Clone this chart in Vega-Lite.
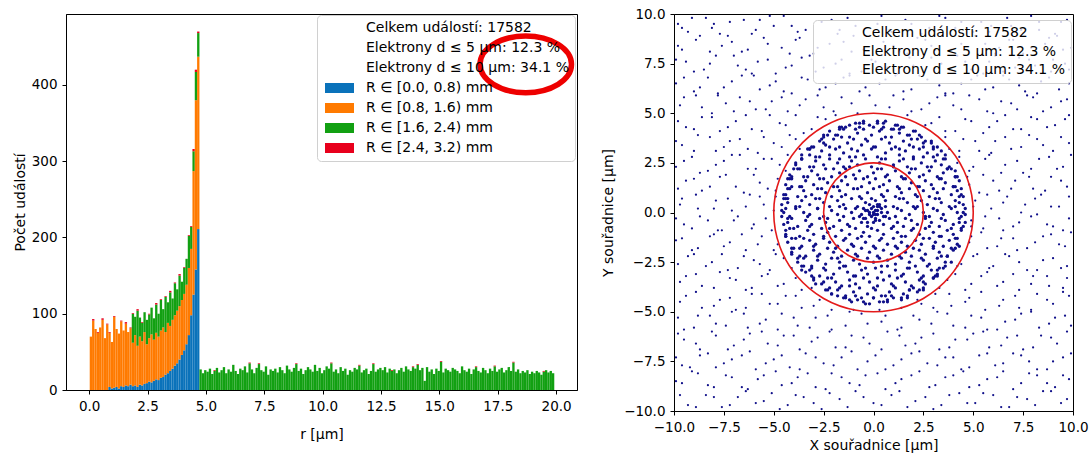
{
"$schema":"https://vega.github.io/schema/vega-lite/v6.json",
"padding":{"left":12,"top":6,"right":1,"bottom":1},
"spacing":17,
"align":"none",
"config":{"font":"DejaVu Sans","view":{"stroke":"#000","strokeWidth":1},
"axis":{"grid":false,"domainColor":"#000","tickColor":"#000","labelColor":"#000","titleColor":"#000","labelFont":"DejaVu Sans","titleFont":"DejaVu Sans","labelFontSize":13.5,"titleFontSize":14,"titleFontWeight":"normal","tickSize":4,"labelPadding":5,"labelFlush":false,"labelOverlap":false}},
"resolve":{"scale":{"color":"independent"},"legend":{"color":"independent"}},
"datasets":{
"hist":[{"r":0.0,"b":70},{"r":0.1,"b":91,"d":2},{"r":0.2,"b":80},{"r":0.3,"b":75,"d":1},{"r":0.4,"b":82},{"r":0.5,"b":92,"d":2},{"r":0.6,"b":68},{"r":0.7,"b":86,"d":1},{"r":0.8,"a":4,"b":71,"d":1},{"r":0.9,"a":2,"b":61},{"r":1.0,"a":3,"b":93,"d":1},{"r":1.1,"a":4,"b":76},{"r":1.2,"a":2,"b":72},{"r":1.3,"a":5,"b":85,"d":1},{"r":1.4,"a":4,"b":74},{"r":1.5,"a":6,"b":81,"d":2},{"r":1.6,"a":5,"b":71},{"r":1.7,"a":7,"b":74,"d":1},
{"r":1.8,"a":5,"b":57,"c":38,"d":1},{"r":1.9,"a":6,"b":66,"c":24},{"r":2.0,"a":4,"b":54,"c":46,"d":2},{"r":2.1,"a":7,"b":63,"c":25},{"r":2.2,"a":6,"b":58,"c":24,"d":1},{"r":2.3,"a":8,"b":68,"c":26},{"r":2.4,"a":9,"b":51,"c":32},{"r":2.5,"a":11,"b":57,"c":31,"d":1},{"r":2.6,"a":10,"b":63,"c":35},{"r":2.7,"a":12,"b":54,"c":28},{"r":2.8,"a":14,"b":61,"c":37,"d":2},{"r":2.9,"a":13,"b":57,"c":30},{"r":3.0,"a":16,"b":62,"c":40,"d":1},{"r":3.1,"a":17,"b":65,"c":24},{"r":3.2,"a":20,"b":56,"c":46,"d":1},{"r":3.3,"a":22,"b":66,"c":27},{"r":3.4,"a":25,"b":59,"c":44,"d":2},{"r":3.5,"a":28,"b":64,"c":28},{"r":3.6,"a":32,"b":66,"c":42,"d":1},{"r":3.7,"a":35,"b":69,"c":28},{"r":3.8,"a":40,"b":70,"c":40,"d":2},{"r":3.9,"a":46,"b":72,"c":24},{"r":4.0,"a":52,"b":74,"c":34,"d":1},{"r":4.1,"a":60,"b":78,"c":34},{"r":4.2,"a":72,"b":88,"c":42,"d":1},{"r":4.3,"a":98,"b":87,"c":29,"d":1},{"r":4.4,"a":125,"b":162,"c":26,"d":3},{"r":4.5,"a":158,"b":222,"c":37,"d":3},{"r":4.6,"a":211,"b":226,"c":31,"d":2},
{"r":4.7,"c":27},{"r":4.8,"c":22},{"r":4.9,"c":26},{"r":5.0,"c":24},{"r":5.1,"c":28},{"r":5.2,"c":21},{"r":5.3,"c":25,"d":1},{"r":5.4,"c":29},{"r":5.5,"c":23},{"r":5.6,"c":26},{"r":5.7,"c":30},{"r":5.8,"c":22},{"r":5.9,"c":27},{"r":6.0,"c":24},{"r":6.1,"c":33},{"r":6.2,"c":25},{"r":6.3,"c":21},{"r":6.4,"c":28},{"r":6.5,"c":26},{"r":6.6,"c":31},{"r":6.7,"c":23},{"r":6.8,"c":35,"d":1},{"r":6.9,"c":27},{"r":7.0,"c":22},{"r":7.1,"c":29},{"r":7.2,"c":34,"d":1},{"r":7.3,"c":26},{"r":7.4,"c":24},{"r":7.5,"c":31},{"r":7.6,"c":20},{"r":7.7,"c":27},{"r":7.8,"c":25},{"r":7.9,"c":28},{"r":8.0,"c":23},{"r":8.1,"c":30},{"r":8.2,"c":26},{"r":8.3,"c":22},{"r":8.4,"c":32},{"r":8.5,"c":27},{"r":8.6,"c":24},{"r":8.7,"c":29},{"r":8.8,"c":34,"d":1},{"r":8.9,"c":25},{"r":9.0,"c":28},{"r":9.1,"c":21},{"r":9.2,"c":26},{"r":9.3,"c":30},{"r":9.4,"c":27},{"r":9.5,"c":24},{"r":9.6,"c":33},{"r":9.7,"c":25},{"r":9.8,"c":29},{"r":9.9,"c":22},{"r":10.0,"c":26},{"r":10.1,"c":31},{"r":10.2,"c":28},{"r":10.3,"c":35,"d":1},{"r":10.4,"c":24},{"r":10.5,"c":27},{"r":10.6,"c":22},{"r":10.7,"c":30},{"r":10.8,"c":25},{"r":10.9,"c":28},{"r":11.0,"c":20},{"r":11.1,"c":26},{"r":11.2,"c":24},{"r":11.3,"c":29},{"r":11.4,"c":27},{"r":11.5,"c":32,"d":1},{"r":11.6,"c":23},{"r":11.7,"c":26},{"r":11.8,"c":28},{"r":11.9,"c":21},{"r":12.0,"c":25},{"r":12.1,"c":34,"d":1},{"r":12.2,"c":24},{"r":12.3,"c":27},{"r":12.4,"c":29},{"r":12.5,"c":26},{"r":12.6,"c":30},{"r":12.7,"c":23},{"r":12.8,"c":28},{"r":12.9,"c":25,"d":1},{"r":13.0,"c":27},{"r":13.1,"c":22},{"r":13.2,"c":26},{"r":13.3,"c":29},{"r":13.4,"c":24},{"r":13.5,"c":31},{"r":13.6,"c":27},{"r":13.7,"c":25},{"r":13.8,"c":30,"d":1},{"r":13.9,"c":28},{"r":14.0,"c":33,"d":1},{"r":14.1,"c":26},{"r":14.2,"c":29},{"r":14.3,"c":12},{"r":14.4,"c":30},{"r":14.5,"c":24},{"r":14.6,"c":27},{"r":14.7,"c":21},{"r":14.8,"c":28},{"r":14.9,"c":25},{"r":15.0,"c":37,"d":1},{"r":15.1,"c":23},{"r":15.2,"c":28},{"r":15.3,"c":26},{"r":15.4,"c":24},{"r":15.5,"c":29},{"r":15.6,"c":27},{"r":15.7,"c":25},{"r":15.8,"c":22},{"r":15.9,"c":31},{"r":16.0,"c":26},{"r":16.1,"c":24},{"r":16.2,"c":28},{"r":16.3,"c":21},{"r":16.4,"c":27},{"r":16.5,"c":30,"d":1},{"r":16.6,"c":25},{"r":16.7,"c":23},{"r":16.8,"c":29},{"r":16.9,"c":26},{"r":17.0,"c":22},{"r":17.1,"c":28},{"r":17.2,"c":25},{"r":17.3,"c":31,"d":1},{"r":17.4,"c":24},{"r":17.5,"c":27},{"r":17.6,"c":29},{"r":17.7,"c":23},{"r":17.8,"c":26},{"r":17.9,"c":30},{"r":18.0,"c":25},{"r":18.1,"c":36,"d":1},{"r":18.2,"c":24},{"r":18.3,"c":27},{"r":18.4,"c":22},{"r":18.5,"c":25},{"r":18.6,"c":23},{"r":18.7,"c":26},{"r":18.8,"c":21},{"r":18.9,"c":24},{"r":19.0,"c":22},{"r":19.1,"c":25},{"r":19.2,"c":23},{"r":19.3,"c":20},{"r":19.4,"c":24,"d":1},{"r":19.5,"c":26},{"r":19.6,"c":23},{"r":19.7,"c":25},{"r":19.8,"c":22}],
"bg":[{"x":-9.6,"y":9.3},{"x":-9.1,"y":9.8},{"x":-8.0,"y":9.5},{"x":-7.7,"y":9.0},{"x":-6.5,"y":9.7},{"x":-5.9,"y":9.2},{"x":-5.2,"y":9.9},{"x":-4.1,"y":9.4},{"x":-3.8,"y":9.1},{"x":-2.6,"y":9.6},{"x":-1.7,"y":9.2},{"x":-1.3,"y":9.8},{"x":0.2,"y":9.5},{"x":0.9,"y":9.1},{"x":1.6,"y":9.7},{"x":2.8,"y":9.3},{"x":3.3,"y":9.9},{"x":4.4,"y":9.6},{"x":5.0,"y":9.1},{"x":5.9,"y":9.4},{"x":6.7,"y":9.8},{"x":7.4,"y":9.2},{"x":8.3,"y":9.6},{"x":9.1,"y":9.0},{"x":9.7,"y":9.7},
{"x":-9.8,"y":8.4},{"x":-8.7,"y":8.9},{"x":-8.2,"y":8.1},{"x":-7.1,"y":8.6},{"x":-6.3,"y":8.2},{"x":-5.5,"y":8.8},{"x":-4.6,"y":8.3},{"x":-3.9,"y":8.7},{"x":-3.0,"y":8.0},{"x":-2.2,"y":8.5},{"x":-1.0,"y":8.9},{"x":-0.5,"y":8.2},{"x":0.5,"y":8.6},{"x":1.3,"y":8.1},{"x":2.2,"y":8.8},{"x":2.9,"y":8.4},{"x":3.9,"y":8.2},{"x":4.7,"y":8.9},{"x":5.6,"y":8.5},{"x":6.1,"y":8.0},{"x":7.0,"y":8.7},{"x":7.9,"y":8.3},{"x":8.8,"y":8.8},{"x":9.5,"y":8.2},
{"x":-9.4,"y":7.6},{"x":-8.5,"y":7.2},{"x":-7.9,"y":7.9},{"x":-6.8,"y":7.4},{"x":-6.1,"y":7.0},{"x":-5.3,"y":7.7},{"x":-4.4,"y":7.3},{"x":-3.6,"y":7.8},{"x":-2.9,"y":7.1},{"x":-1.9,"y":7.5},{"x":-1.2,"y":7.0},{"x":-0.1,"y":7.7},{"x":0.7,"y":7.3},{"x":1.8,"y":7.8},{"x":2.5,"y":7.1},{"x":3.4,"y":7.5},{"x":4.2,"y":7.9},{"x":4.9,"y":7.2},{"x":5.8,"y":7.6},{"x":6.5,"y":7.1},{"x":7.3,"y":7.8},{"x":8.1,"y":7.4},{"x":9.0,"y":7.7},{"x":9.8,"y":7.2},
{"x":-9.9,"y":6.5},{"x":-9.0,"y":6.1},{"x":-8.3,"y":6.8},{"x":-7.5,"y":6.3},{"x":-6.6,"y":6.9},{"x":-5.7,"y":6.2},{"x":-4.9,"y":6.6},{"x":-4.1,"y":6.0},{"x":-3.3,"y":6.7},{"x":-2.4,"y":6.3},{"x":-1.5,"y":6.8},{"x":-0.7,"y":6.1},{"x":0.3,"y":6.5},{"x":1.1,"y":6.9},{"x":1.9,"y":6.2},{"x":2.7,"y":6.7},{"x":3.6,"y":6.0},{"x":4.4,"y":6.5},{"x":5.2,"y":6.9},{"x":6.0,"y":6.3},{"x":6.8,"y":6.7},{"x":7.6,"y":6.1},{"x":8.4,"y":6.6},{"x":9.3,"y":6.2},
{"x":-9.5,"y":5.8},{"x":-8.6,"y":5.3},{"x":-7.8,"y":5.9},{"x":-7.0,"y":5.1},{"x":-6.2,"y":5.6},{"x":-5.4,"y":5.2},{"x":-4.6,"y":5.8},{"x":-3.7,"y":5.4},{"x":-2.8,"y":5.9},{"x":-2.0,"y":5.1},{"x":-1.1,"y":5.5},{"x":-0.2,"y":5.9},{"x":0.8,"y":5.3},{"x":1.5,"y":5.7},{"x":2.4,"y":5.2},{"x":3.2,"y":5.8},{"x":4.0,"y":5.4},{"x":4.8,"y":5.9},{"x":5.7,"y":5.1},{"x":6.4,"y":5.6},{"x":7.2,"y":5.2},{"x":8.0,"y":5.8},{"x":8.9,"y":5.3},{"x":9.7,"y":5.7},
{"x":-9.8,"y":4.6},{"x":-9.0,"y":4.2},{"x":-8.1,"y":4.8},{"x":-7.3,"y":4.3},{"x":-6.4,"y":4.9},{"x":-5.6,"y":4.1},{"x":-4.7,"y":4.5},{"x":-3.9,"y":4.9},{"x":-3.1,"y":4.2},{"x":-2.4,"y":4.7},{"x":2.6,"y":4.4},{"x":3.3,"y":4.8},{"x":4.1,"y":4.1},{"x":4.9,"y":4.6},{"x":5.8,"y":4.3},{"x":6.6,"y":4.9},{"x":7.4,"y":4.2},{"x":8.2,"y":4.7},{"x":9.1,"y":4.4},{"x":9.8,"y":4.9},
{"x":-9.6,"y":3.4},{"x":-8.8,"y":3.9},{"x":-7.9,"y":3.1},{"x":-7.2,"y":3.6},{"x":-6.3,"y":3.2},{"x":-5.5,"y":3.8},{"x":-4.6,"y":3.3},{"x":-3.9,"y":3.7},{"x":3.8,"y":3.2},{"x":4.5,"y":3.7},{"x":5.3,"y":3.1},{"x":6.1,"y":3.6},{"x":6.9,"y":3.2},{"x":7.8,"y":3.9},{"x":8.5,"y":3.4},{"x":9.4,"y":3.8},
{"x":-9.9,"y":2.3},{"x":-9.1,"y":2.8},{"x":-8.3,"y":2.1},{"x":-7.5,"y":2.6},{"x":-6.7,"y":2.9},{"x":-5.9,"y":2.2},{"x":-5.1,"y":2.7},{"x":-4.4,"y":2.1},{"x":4.3,"y":2.8},{"x":5.0,"y":2.3},{"x":5.8,"y":2.9},{"x":6.6,"y":2.4},{"x":7.5,"y":2.0},{"x":8.3,"y":2.7},{"x":9.2,"y":2.2},{"x":9.9,"y":2.9},
{"x":-9.4,"y":1.6},{"x":-8.6,"y":1.1},{"x":-7.7,"y":1.8},{"x":-6.9,"y":1.3},{"x":-6.0,"y":1.9},{"x":-5.3,"y":1.2},{"x":-4.8,"y":1.7},{"x":4.8,"y":1.4},{"x":5.5,"y":1.9},{"x":6.3,"y":1.1},{"x":7.1,"y":1.6},{"x":8.0,"y":1.2},{"x":8.9,"y":1.8},{"x":9.7,"y":1.3},
{"x":-9.7,"y":0.4},{"x":-8.9,"y":0.9},{"x":-8.0,"y":0.2},{"x":-7.3,"y":0.7},{"x":-6.4,"y":0.3},{"x":-5.7,"y":0.8},{"x":-5.0,"y":0.1},{"x":5.1,"y":0.6},{"x":5.9,"y":0.2},{"x":6.7,"y":0.8},{"x":7.6,"y":0.4},{"x":8.4,"y":0.9},{"x":9.3,"y":0.3},
{"x":-9.5,"y":-0.6},{"x":-8.7,"y":-0.2},{"x":-7.8,"y":-0.9},{"x":-7.0,"y":-0.4},{"x":-6.1,"y":-0.8},{"x":-5.4,"y":-0.3},{"x":4.9,"y":-0.7},{"x":5.6,"y":-0.2},{"x":6.5,"y":-0.9},{"x":7.3,"y":-0.5},{"x":8.2,"y":-0.1},{"x":9.0,"y":-0.7},{"x":9.8,"y":-0.3},
{"x":-9.9,"y":-1.4},{"x":-9.1,"y":-1.9},{"x":-8.2,"y":-1.2},{"x":-7.5,"y":-1.7},{"x":-6.6,"y":-1.1},{"x":-5.8,"y":-1.6},{"x":-5.0,"y":-1.9},{"x":4.9,"y":-1.2},{"x":5.7,"y":-1.8},{"x":6.4,"y":-1.3},{"x":7.2,"y":-1.9},{"x":8.1,"y":-1.5},{"x":8.9,"y":-1.1},{"x":9.6,"y":-1.7},
{"x":-9.3,"y":-2.2},{"x":-8.4,"y":-2.7},{"x":-7.6,"y":-2.1},{"x":-6.8,"y":-2.8},{"x":-6.0,"y":-2.4},{"x":-5.2,"y":-2.9},{"x":-4.5,"y":-2.3},{"x":4.4,"y":-2.6},{"x":5.2,"y":-2.1},{"x":6.0,"y":-2.7},{"x":6.8,"y":-2.2},{"x":7.7,"y":-2.9},{"x":8.5,"y":-2.4},{"x":9.4,"y":-2.8},
{"x":-9.7,"y":-3.5},{"x":-8.9,"y":-3.1},{"x":-8.0,"y":-3.8},{"x":-7.2,"y":-3.3},{"x":-6.4,"y":-3.9},{"x":-5.6,"y":-3.2},{"x":-4.8,"y":-3.7},{"x":-3.9,"y":-3.3},{"x":3.7,"y":-3.4},{"x":4.6,"y":-3.9},{"x":5.4,"y":-3.2},{"x":6.2,"y":-3.7},{"x":7.0,"y":-3.1},{"x":7.9,"y":-3.6},{"x":8.7,"y":-3.2},{"x":9.5,"y":-3.8},
{"x":-9.4,"y":-4.2},{"x":-8.6,"y":-4.8},{"x":-7.7,"y":-4.4},{"x":-6.9,"y":-4.9},{"x":-6.1,"y":-4.1},{"x":-5.2,"y":-4.6},{"x":-4.4,"y":-4.2},{"x":-3.6,"y":-4.8},{"x":-2.7,"y":-4.4},{"x":2.4,"y":-4.6},{"x":3.1,"y":-4.1},{"x":3.9,"y":-4.7},{"x":4.8,"y":-4.3},{"x":5.6,"y":-4.9},{"x":6.5,"y":-4.4},{"x":7.3,"y":-4.8},{"x":8.2,"y":-4.1},{"x":9.0,"y":-4.6},{"x":9.8,"y":-4.2},
{"x":-9.8,"y":-5.3},{"x":-9.0,"y":-5.8},{"x":-8.2,"y":-5.2},{"x":-7.4,"y":-5.7},{"x":-6.5,"y":-5.1},{"x":-5.7,"y":-5.6},{"x":-4.8,"y":-5.9},{"x":-4.0,"y":-5.3},{"x":-3.2,"y":-5.8},{"x":-2.3,"y":-5.2},{"x":-1.4,"y":-5.7},{"x":-0.6,"y":-5.1},{"x":0.4,"y":-5.5},{"x":1.2,"y":-5.9},{"x":2.0,"y":-5.2},{"x":2.9,"y":-5.6},{"x":3.7,"y":-5.1},{"x":4.6,"y":-5.8},{"x":5.4,"y":-5.3},{"x":6.2,"y":-5.9},{"x":7.1,"y":-5.4},{"x":7.9,"y":-5.0},{"x":8.8,"y":-5.6},{"x":9.6,"y":-5.2},
{"x":-9.5,"y":-6.4},{"x":-8.7,"y":-6.9},{"x":-7.9,"y":-6.2},{"x":-7.0,"y":-6.7},{"x":-6.2,"y":-6.1},{"x":-5.3,"y":-6.6},{"x":-4.5,"y":-6.2},{"x":-3.7,"y":-6.9},{"x":-2.8,"y":-6.3},{"x":-1.9,"y":-6.8},{"x":-1.1,"y":-6.2},{"x":-0.2,"y":-6.6},{"x":0.7,"y":-6.0},{"x":1.6,"y":-6.7},{"x":2.4,"y":-6.3},{"x":3.3,"y":-6.9},{"x":4.1,"y":-6.4},{"x":5.0,"y":-6.1},{"x":5.8,"y":-6.8},{"x":6.7,"y":-6.3},{"x":7.5,"y":-6.9},{"x":8.4,"y":-6.2},{"x":9.2,"y":-6.6},
{"x":-9.9,"y":-7.3},{"x":-9.2,"y":-7.8},{"x":-8.3,"y":-7.1},{"x":-7.5,"y":-7.6},{"x":-6.6,"y":-7.2},{"x":-5.9,"y":-7.9},{"x":-5.0,"y":-7.4},{"x":-4.2,"y":-7.8},{"x":-3.4,"y":-7.1},{"x":-2.5,"y":-7.6},{"x":-1.6,"y":-7.3},{"x":-0.8,"y":-7.9},{"x":0.1,"y":-7.2},{"x":1.0,"y":-7.7},{"x":1.9,"y":-7.1},{"x":2.7,"y":-7.6},{"x":3.6,"y":-7.3},{"x":4.4,"y":-7.9},{"x":5.3,"y":-7.2},{"x":6.1,"y":-7.7},{"x":7.0,"y":-7.1},{"x":7.8,"y":-7.5},{"x":8.7,"y":-7.9},{"x":9.5,"y":-7.3},
{"x":-9.6,"y":-8.6},{"x":-8.8,"y":-8.1},{"x":-8.0,"y":-8.8},{"x":-7.1,"y":-8.3},{"x":-6.3,"y":-8.9},{"x":-5.5,"y":-8.2},{"x":-4.6,"y":-8.7},{"x":-3.8,"y":-8.3},{"x":-2.9,"y":-8.8},{"x":-2.1,"y":-8.1},{"x":-1.2,"y":-8.6},{"x":-0.4,"y":-8.2},{"x":0.6,"y":-8.9},{"x":1.4,"y":-8.4},{"x":2.3,"y":-8.0},{"x":3.1,"y":-8.7},{"x":4.0,"y":-8.2},{"x":4.8,"y":-8.8},{"x":5.7,"y":-8.4},{"x":6.5,"y":-8.0},{"x":7.4,"y":-8.6},{"x":8.2,"y":-8.2},{"x":9.1,"y":-8.8},{"x":9.8,"y":-8.4},
{"x":-9.3,"y":-9.7},{"x":-8.4,"y":-9.2},{"x":-7.6,"y":-9.8},{"x":-6.8,"y":-9.3},{"x":-5.9,"y":-9.6},{"x":-5.1,"y":-9.1},{"x":-4.3,"y":-9.7},{"x":-3.5,"y":-9.3},{"x":-2.6,"y":-9.9},{"x":-1.7,"y":-9.4},{"x":-0.9,"y":-9.0},{"x":0.0,"y":-9.6},{"x":0.9,"y":-9.2},{"x":1.7,"y":-9.8},{"x":2.6,"y":-9.3},{"x":3.4,"y":-9.7},{"x":4.3,"y":-9.1},{"x":5.1,"y":-9.6},{"x":6.0,"y":-9.2},{"x":6.8,"y":-9.8},{"x":7.7,"y":-9.4},{"x":8.5,"y":-9.0},{"x":9.4,"y":-9.6},
{"x":-9.8,"y":9.5},{"x":-9.3,"y":9.1},{"x":-8.4,"y":9.8},{"x":-8.1,"y":9.3},{"x":-7.2,"y":9.6},{"x":-6.1,"y":9.0},{"x":-5.7,"y":9.7},{"x":-5.0,"y":9.4},{"x":-4.5,"y":9.9},{"x":-3.4,"y":9.2},{"x":-2.1,"y":9.7},{"x":-1.8,"y":9.0},{"x":-0.9,"y":9.4},{"x":0.4,"y":9.9},{"x":0.8,"y":9.2},{"x":1.9,"y":9.5},{"x":2.4,"y":9.0},{"x":3.6,"y":9.8},{"x":4.1,"y":9.3},{"x":5.4,"y":9.6},{"x":5.8,"y":9.1},{"x":6.9,"y":9.4},{"x":7.9,"y":9.9},{"x":8.3,"y":9.2},{"x":9.4,"y":9.6},
{"x":-9.6,"y":8.2},{"x":-8.9,"y":8.7},{"x":-7.6,"y":8.4},{"x":-7.3,"y":8.9},{"x":-6.6,"y":8.1},{"x":-5.3,"y":8.5},{"x":-4.2,"y":8.0},{"x":-3.7,"y":8.8},{"x":-2.8,"y":8.3},{"x":-1.5,"y":8.6},{"x":-1.1,"y":8.1},{"x":-0.2,"y":8.9},{"x":1.0,"y":8.4},{"x":1.7,"y":8.0},{"x":2.6,"y":8.7},{"x":3.1,"y":8.2},{"x":4.4,"y":8.5},{"x":5.1,"y":8.9},{"x":6.3,"y":8.3},{"x":6.8,"y":8.7},{"x":7.5,"y":8.0},{"x":8.6,"y":8.5},{"x":9.2,"y":8.9},{"x":9.9,"y":8.3},
{"x":-9.9,"y":7.7},{"x":-9.0,"y":7.1},{"x":-8.2,"y":7.5},{"x":-7.0,"y":7.9},{"x":-6.4,"y":7.2},{"x":-5.8,"y":7.6},{"x":-4.9,"y":7.0},{"x":-4.1,"y":7.4},{"x":-3.2,"y":7.9},{"x":-2.5,"y":7.3},{"x":-1.6,"y":7.7},{"x":-0.6,"y":7.1},{"x":0.1,"y":7.6},{"x":1.2,"y":7.0},{"x":2.0,"y":7.4},{"x":2.9,"y":7.8},{"x":3.8,"y":7.2},{"x":4.6,"y":7.6},{"x":5.5,"y":7.0},{"x":6.1,"y":7.9},{"x":7.1,"y":7.3},{"x":7.8,"y":7.7},{"x":8.9,"y":7.1},{"x":9.6,"y":7.5},
{"x":-9.5,"y":6.8},{"x":-8.7,"y":6.3},{"x":-7.8,"y":6.0},{"x":-7.1,"y":6.6},{"x":-6.0,"y":6.9},{"x":-5.2,"y":6.4},{"x":-4.5,"y":6.1},{"x":-3.6,"y":6.8},{"x":-2.7,"y":6.2},{"x":-1.9,"y":6.5},{"x":-1.2,"y":6.9},{"x":-0.4,"y":6.3},{"x":0.6,"y":6.7},{"x":1.5,"y":6.1},{"x":2.3,"y":6.9},{"x":3.3,"y":6.4},{"x":4.0,"y":6.0},{"x":4.9,"y":6.7},{"x":5.6,"y":6.2},{"x":6.5,"y":6.9},{"x":7.3,"y":6.4},{"x":8.2,"y":6.0},{"x":8.8,"y":6.8},{"x":9.8,"y":6.5},
{"x":-9.7,"y":5.4},{"x":-8.9,"y":5.9},{"x":-8.1,"y":5.0},{"x":-7.4,"y":5.5},{"x":-6.7,"y":5.8},{"x":-5.9,"y":5.2},{"x":-5.1,"y":5.6},{"x":-4.3,"y":5.1},{"x":-3.4,"y":5.7},{"x":-2.5,"y":5.3},{"x":-1.6,"y":5.8},{"x":-0.8,"y":5.0},{"x":0.1,"y":5.4},{"x":1.0,"y":5.9},{"x":1.9,"y":5.1},{"x":2.8,"y":5.5},{"x":3.6,"y":5.9},{"x":4.4,"y":5.2},{"x":5.3,"y":5.7},{"x":6.0,"y":5.0},{"x":6.9,"y":5.5},{"x":7.7,"y":5.9},{"x":8.5,"y":5.1},{"x":9.4,"y":5.6},
{"x":-9.4,"y":4.3},{"x":-8.6,"y":4.8},{"x":-7.7,"y":4.1},{"x":-6.9,"y":4.6},{"x":-6.1,"y":4.2},{"x":-5.2,"y":4.9},{"x":-4.4,"y":4.4},{"x":-3.5,"y":4.0},{"x":-2.8,"y":4.8},{"x":-1.9,"y":4.9},{"x":1.7,"y":4.9},{"x":2.9,"y":4.5},{"x":3.6,"y":4.1},{"x":4.6,"y":4.7},{"x":5.5,"y":4.0},{"x":6.2,"y":4.6},{"x":7.0,"y":4.2},{"x":7.9,"y":4.8},{"x":8.7,"y":4.3},{"x":9.6,"y":4.7},
{"x":-9.9,"y":3.6},{"x":-9.0,"y":3.1},{"x":-8.2,"y":3.8},{"x":-7.5,"y":3.3},{"x":-6.7,"y":3.7},{"x":-5.8,"y":3.0},{"x":-5.0,"y":3.5},{"x":-4.2,"y":3.9},{"x":-3.7,"y":3.2},{"x":3.6,"y":3.8},{"x":4.3,"y":3.1},{"x":5.1,"y":3.6},{"x":5.9,"y":3.0},{"x":6.6,"y":3.8},{"x":7.4,"y":3.3},{"x":8.2,"y":3.7},{"x":9.0,"y":3.1},{"x":9.8,"y":3.5},
{"x":-9.5,"y":2.6},{"x":-8.7,"y":2.0},{"x":-7.9,"y":2.4},{"x":-7.1,"y":2.9},{"x":-6.3,"y":2.2},{"x":-5.5,"y":2.7},{"x":-4.7,"y":2.4},{"x":-4.3,"y":2.9},{"x":4.2,"y":2.5},{"x":4.8,"y":2.1},{"x":5.6,"y":2.7},{"x":6.4,"y":2.0},{"x":7.2,"y":2.6},{"x":7.9,"y":2.2},{"x":8.8,"y":2.8},{"x":9.5,"y":2.3},
{"x":-9.8,"y":1.2},{"x":-9.0,"y":1.7},{"x":-8.2,"y":1.3},{"x":-7.4,"y":1.9},{"x":-6.5,"y":1.0},{"x":-5.7,"y":1.5},{"x":-4.9,"y":1.1},{"x":4.7,"y":1.8},{"x":5.3,"y":1.0},{"x":6.0,"y":1.6},{"x":6.9,"y":1.2},{"x":7.8,"y":1.8},{"x":8.6,"y":1.1},{"x":9.4,"y":1.6},
{"x":-9.6,"y":0.7},{"x":-8.8,"y":0.2},{"x":-7.9,"y":0.6},{"x":-7.1,"y":0.1},{"x":-6.2,"y":0.9},{"x":-5.5,"y":0.4},{"x":-4.9,"y":0.8},{"x":5.0,"y":0.3},{"x":5.7,"y":0.9},{"x":6.5,"y":0.5},{"x":7.4,"y":0.0},{"x":8.1,"y":0.7},{"x":8.9,"y":0.3},{"x":9.8,"y":0.8},
{"x":-9.9,"y":-0.3},{"x":-9.1,"y":-0.8},{"x":-8.3,"y":-0.4},{"x":-7.6,"y":-0.9},{"x":-6.8,"y":-0.2},{"x":-6.0,"y":-0.6},{"x":-5.1,"y":-0.9},{"x":4.9,"y":-0.4},{"x":5.5,"y":-0.8},{"x":6.3,"y":-0.3},{"x":7.0,"y":-0.7},{"x":7.9,"y":-0.2},{"x":8.7,"y":-0.6},{"x":9.5,"y":-0.9},
{"x":-9.6,"y":-1.3},{"x":-8.8,"y":-1.8},{"x":-8.0,"y":-1.1},{"x":-7.2,"y":-1.5},{"x":-6.4,"y":-1.9},{"x":-5.6,"y":-1.2},{"x":-4.8,"y":-1.6},{"x":4.8,"y":-1.5},{"x":5.4,"y":-1.0},{"x":6.2,"y":-1.7},{"x":7.0,"y":-1.3},{"x":7.7,"y":-1.8},{"x":8.5,"y":-1.2},{"x":9.3,"y":-1.6},{"x":9.9,"y":-1.0},
{"x":-9.8,"y":-2.6},{"x":-9.0,"y":-2.1},{"x":-8.1,"y":-2.5},{"x":-7.3,"y":-2.9},{"x":-6.5,"y":-2.2},{"x":-5.7,"y":-2.6},{"x":-4.9,"y":-2.1},{"x":-4.1,"y":-2.8},{"x":4.2,"y":-2.7},{"x":5.0,"y":-2.2},{"x":5.8,"y":-2.8},{"x":6.6,"y":-2.1},{"x":7.3,"y":-2.5},{"x":8.2,"y":-2.9},{"x":9.0,"y":-2.3},{"x":9.7,"y":-2.7},
{"x":-9.4,"y":-3.2},{"x":-8.6,"y":-3.7},{"x":-7.7,"y":-3.0},{"x":-6.9,"y":-3.4},{"x":-6.1,"y":-3.8},{"x":-5.3,"y":-3.1},{"x":-4.5,"y":-3.6},{"x":-3.6,"y":-3.9},{"x":-3.1,"y":-3.8},{"x":3.3,"y":-3.8},{"x":4.1,"y":-3.1},{"x":4.9,"y":-3.6},{"x":5.7,"y":-3.0},{"x":6.5,"y":-3.5},{"x":7.3,"y":-3.9},{"x":8.0,"y":-3.2},{"x":8.8,"y":-3.7},{"x":9.7,"y":-3.3},
{"x":-9.7,"y":-4.5},{"x":-8.9,"y":-4.0},{"x":-8.0,"y":-4.7},{"x":-7.2,"y":-4.3},{"x":-6.4,"y":-4.8},{"x":-5.6,"y":-4.1},{"x":-4.8,"y":-4.6},{"x":-3.9,"y":-4.2},{"x":-3.0,"y":-4.7},{"x":-2.1,"y":-4.9},{"x":-1.0,"y":-4.9},{"x":0.3,"y":-4.9},{"x":1.4,"y":-4.8},{"x":2.2,"y":-4.4},{"x":3.0,"y":-4.8},{"x":3.8,"y":-4.1},{"x":4.6,"y":-4.5},{"x":5.4,"y":-4.0},{"x":6.3,"y":-4.7},{"x":7.1,"y":-4.2},{"x":7.9,"y":-4.9},{"x":8.7,"y":-4.4},{"x":9.5,"y":-4.0},
{"x":-9.5,"y":-5.9},{"x":-8.8,"y":-5.2},{"x":-7.9,"y":-5.6},{"x":-7.1,"y":-5.0},{"x":-6.3,"y":-5.8},{"x":-5.4,"y":-5.4},{"x":-4.6,"y":-5.1},{"x":-3.8,"y":-5.7},{"x":-2.9,"y":-5.3},{"x":-2.1,"y":-5.9},{"x":-1.2,"y":-5.0},{"x":-0.3,"y":-5.6},{"x":0.6,"y":-5.2},{"x":1.4,"y":-5.8},{"x":2.3,"y":-5.4},{"x":3.2,"y":-5.0},{"x":4.0,"y":-5.7},{"x":4.9,"y":-5.2},{"x":5.7,"y":-5.9},{"x":6.6,"y":-5.5},{"x":7.4,"y":-5.1},{"x":8.3,"y":-5.8},{"x":9.1,"y":-5.3},{"x":9.9,"y":-5.7},
{"x":-9.8,"y":-6.1},{"x":-8.9,"y":-6.6},{"x":-8.1,"y":-6.0},{"x":-7.3,"y":-6.9},{"x":-6.5,"y":-6.4},{"x":-5.6,"y":-6.0},{"x":-4.8,"y":-6.7},{"x":-4.0,"y":-6.2},{"x":-3.1,"y":-6.5},{"x":-2.2,"y":-6.0},{"x":-1.4,"y":-6.8},{"x":-0.5,"y":-6.3},{"x":0.4,"y":-6.9},{"x":1.3,"y":-6.2},{"x":2.1,"y":-6.6},{"x":3.0,"y":-6.1},{"x":3.8,"y":-6.8},{"x":4.7,"y":-6.4},{"x":5.5,"y":-6.0},{"x":6.4,"y":-6.7},{"x":7.2,"y":-6.2},{"x":8.0,"y":-6.8},{"x":8.9,"y":-6.3},{"x":9.7,"y":-6.0},
{"x":-9.6,"y":-7.7},{"x":-8.7,"y":-7.2},{"x":-7.9,"y":-7.8},{"x":-7.1,"y":-7.4},{"x":-6.2,"y":-7.0},{"x":-5.4,"y":-7.6},{"x":-4.6,"y":-7.2},{"x":-3.7,"y":-7.9},{"x":-2.9,"y":-7.3},{"x":-2.0,"y":-7.7},{"x":-1.1,"y":-7.0},{"x":-0.3,"y":-7.5},{"x":0.6,"y":-7.9},{"x":1.4,"y":-7.4},{"x":2.3,"y":-7.0},{"x":3.2,"y":-7.7},{"x":4.0,"y":-7.3},{"x":4.8,"y":-7.8},{"x":5.7,"y":-7.1},{"x":6.5,"y":-7.6},{"x":7.4,"y":-7.2},{"x":8.2,"y":-7.9},{"x":9.0,"y":-7.5},{"x":9.9,"y":-7.1},
{"x":-9.9,"y":-8.5},{"x":-9.1,"y":-8.0},{"x":-8.3,"y":-8.7},{"x":-7.4,"y":-8.2},{"x":-6.6,"y":-8.8},{"x":-5.8,"y":-8.4},{"x":-4.9,"y":-8.0},{"x":-4.1,"y":-8.6},{"x":-3.3,"y":-8.1},{"x":-2.4,"y":-8.9},{"x":-1.6,"y":-8.3},{"x":-0.7,"y":-8.7},{"x":0.2,"y":-8.1},{"x":1.1,"y":-8.6},{"x":1.9,"y":-8.2},{"x":2.8,"y":-8.8},{"x":3.6,"y":-8.3},{"x":4.5,"y":-8.0},{"x":5.3,"y":-8.7},{"x":6.2,"y":-8.3},{"x":7.0,"y":-8.9},{"x":7.8,"y":-8.1},{"x":8.7,"y":-8.6},{"x":9.5,"y":-8.2},
{"x":-9.7,"y":-9.2},{"x":-8.9,"y":-9.8},{"x":-8.0,"y":-9.3},{"x":-7.2,"y":-9.7},{"x":-6.4,"y":-9.0},{"x":-5.5,"y":-9.5},{"x":-4.7,"y":-9.9},{"x":-3.9,"y":-9.2},{"x":-3.0,"y":-9.6},{"x":-2.2,"y":-9.1},{"x":-1.3,"y":-9.8},{"x":-0.5,"y":-9.3},{"x":0.4,"y":-9.7},{"x":1.3,"y":-9.0},{"x":2.1,"y":-9.5},{"x":3.0,"y":-9.9},{"x":3.8,"y":-9.2},{"x":4.7,"y":-9.6},{"x":5.5,"y":-9.1},{"x":6.4,"y":-9.8},{"x":7.2,"y":-9.3},{"x":8.1,"y":-9.7},{"x":8.9,"y":-9.0},{"x":9.7,"y":-9.4}],
"disc":[{"x":-1.6,"y":4.3},{"x":-1.2,"y":4.4},{"x":-0.9,"y":4.5},{"x":-0.5,"y":4.6},{"x":-0.2,"y":4.4},{"x":0.2,"y":4.5},{"x":0.5,"y":4.3},{"x":0.6,"y":4.6},{"x":1.1,"y":4.4},{"x":1.5,"y":4.3},
{"x":-2.5,"y":3.8},{"x":-2.2,"y":4.1},{"x":-1.9,"y":3.9},{"x":-1.5,"y":4.2},{"x":-1.2,"y":3.8},{"x":-0.8,"y":4.0},{"x":-0.5,"y":4.2},{"x":-0.1,"y":3.9},{"x":0.3,"y":4.1},{"x":0.6,"y":3.8},{"x":1.0,"y":4.2},{"x":1.3,"y":4.0},{"x":1.7,"y":3.9},{"x":2.0,"y":4.1},{"x":2.4,"y":3.8},
{"x":-3.1,"y":3.3},{"x":-2.7,"y":3.6},{"x":-2.4,"y":3.4},{"x":-2.0,"y":3.7},{"x":-1.7,"y":3.3},{"x":-1.3,"y":3.5},{"x":-1.0,"y":3.7},{"x":-0.6,"y":3.4},{"x":-0.3,"y":3.6},{"x":0.1,"y":3.3},{"x":0.4,"y":3.7},{"x":0.8,"y":3.5},{"x":1.1,"y":3.3},{"x":1.5,"y":3.6},{"x":1.8,"y":3.4},{"x":2.2,"y":3.7},{"x":2.5,"y":3.3},{"x":2.9,"y":3.5},{"x":3.2,"y":3.3},
{"x":-3.6,"y":2.9},{"x":-3.3,"y":3.2},{"x":-2.9,"y":2.8},{"x":-2.6,"y":3.1},{"x":-2.2,"y":2.9},{"x":-1.9,"y":3.2},{"x":-1.5,"y":3.0},{"x":-1.2,"y":2.8},{"x":-0.8,"y":3.1},{"x":-0.5,"y":2.9},{"x":-0.1,"y":3.2},{"x":0.2,"y":2.8},{"x":0.6,"y":3.0},{"x":0.9,"y":3.2},{"x":1.3,"y":2.9},{"x":1.6,"y":3.1},{"x":2.0,"y":2.8},{"x":2.3,"y":3.2},{"x":2.7,"y":3.0},{"x":3.0,"y":2.8},{"x":3.4,"y":3.1},
{"x":-3.9,"y":2.4},{"x":-3.6,"y":2.7},{"x":-3.2,"y":2.3},{"x":-2.9,"y":2.6},{"x":-2.5,"y":2.4},{"x":-2.2,"y":2.7},{"x":-1.8,"y":2.5},{"x":-1.5,"y":2.3},{"x":-1.1,"y":2.6},{"x":-0.8,"y":2.4},{"x":-0.4,"y":2.7},{"x":-0.1,"y":2.3},{"x":0.3,"y":2.5},{"x":0.6,"y":2.7},{"x":1.0,"y":2.4},{"x":1.3,"y":2.6},{"x":1.7,"y":2.3},{"x":2.0,"y":2.7},{"x":2.4,"y":2.5},{"x":2.7,"y":2.3},{"x":3.1,"y":2.6},{"x":3.4,"y":2.4},{"x":3.8,"y":2.3},
{"x":-4.2,"y":1.9},{"x":-3.8,"y":2.2},{"x":-3.5,"y":1.8},{"x":-3.1,"y":2.1},{"x":-2.8,"y":1.9},{"x":-2.4,"y":2.2},{"x":-2.1,"y":1.8},{"x":-1.7,"y":2.0},{"x":-1.4,"y":2.2},{"x":-1.0,"y":1.9},{"x":-0.7,"y":2.1},{"x":-0.3,"y":1.8},{"x":0.0,"y":2.0},{"x":0.4,"y":2.2},{"x":0.7,"y":1.9},{"x":1.1,"y":2.1},{"x":1.4,"y":1.8},{"x":1.8,"y":2.0},{"x":2.1,"y":2.2},{"x":2.5,"y":1.9},{"x":2.8,"y":2.1},{"x":3.2,"y":1.8},{"x":3.5,"y":2.0},{"x":3.9,"y":2.2},{"x":4.2,"y":1.8},
{"x":-4.4,"y":1.4},{"x":-4.1,"y":1.7},{"x":-3.7,"y":1.3},{"x":-3.4,"y":1.6},{"x":-3.0,"y":1.4},{"x":-2.7,"y":1.7},{"x":-2.3,"y":1.5},{"x":-2.0,"y":1.3},{"x":-1.6,"y":1.6},{"x":-1.3,"y":1.4},{"x":-0.9,"y":1.7},{"x":-0.6,"y":1.3},{"x":-0.2,"y":1.5},{"x":0.1,"y":1.7},{"x":0.5,"y":1.4},{"x":0.8,"y":1.6},{"x":1.2,"y":1.3},{"x":1.5,"y":1.7},{"x":1.9,"y":1.5},{"x":2.2,"y":1.3},{"x":2.6,"y":1.6},{"x":2.9,"y":1.4},{"x":3.3,"y":1.7},{"x":3.6,"y":1.5},{"x":4.0,"y":1.3},{"x":4.3,"y":1.6},
{"x":-4.5,"y":0.9},{"x":-4.2,"y":1.2},{"x":-3.8,"y":0.8},{"x":-3.5,"y":1.1},{"x":-3.1,"y":0.9},{"x":-2.8,"y":1.2},{"x":-2.4,"y":1.0},{"x":-2.1,"y":0.8},{"x":-1.7,"y":1.1},{"x":-1.4,"y":0.9},{"x":-1.0,"y":1.2},{"x":-0.7,"y":0.8},{"x":-0.3,"y":1.0},{"x":0.0,"y":1.2},{"x":0.4,"y":0.9},{"x":0.7,"y":1.1},{"x":1.1,"y":0.8},{"x":1.4,"y":1.0},{"x":1.8,"y":1.2},{"x":2.1,"y":0.9},{"x":2.5,"y":1.1},{"x":2.8,"y":0.8},{"x":3.2,"y":1.0},{"x":3.5,"y":1.2},{"x":3.9,"y":0.9},{"x":4.2,"y":1.1},{"x":4.5,"y":0.8},
{"x":-4.6,"y":0.4},{"x":-4.3,"y":0.7},{"x":-3.9,"y":0.3},{"x":-3.6,"y":0.6},{"x":-3.2,"y":0.4},{"x":-2.9,"y":0.7},{"x":-2.5,"y":0.5},{"x":-2.2,"y":0.3},{"x":-1.8,"y":0.6},{"x":-1.5,"y":0.4},{"x":-1.1,"y":0.7},{"x":-0.8,"y":0.3},{"x":-0.4,"y":0.5},{"x":-0.1,"y":0.7},{"x":0.3,"y":0.4},{"x":0.6,"y":0.6},{"x":1.0,"y":0.3},{"x":1.3,"y":0.7},{"x":1.7,"y":0.5},{"x":2.0,"y":0.3},{"x":2.4,"y":0.6},{"x":2.7,"y":0.4},{"x":3.1,"y":0.7},{"x":3.4,"y":0.5},{"x":3.8,"y":0.3},{"x":4.1,"y":0.6},{"x":4.5,"y":0.4},
{"x":-4.6,"y":0.1},{"x":-4.2,"y":-0.2},{"x":-3.9,"y":0.2},{"x":-3.5,"y":0.0},{"x":-3.2,"y":-0.1},{"x":-2.8,"y":0.2},{"x":-2.5,"y":-0.2},{"x":-2.1,"y":0.1},{"x":-1.8,"y":-0.1},{"x":-1.4,"y":0.2},{"x":-1.1,"y":0.0},{"x":-0.7,"y":-0.2},{"x":-0.4,"y":0.1},{"x":0.0,"y":-0.1},{"x":0.4,"y":0.2},{"x":0.7,"y":0.0},{"x":1.1,"y":-0.2},{"x":1.4,"y":0.1},{"x":1.8,"y":-0.1},{"x":2.1,"y":0.2},{"x":2.5,"y":0.0},{"x":2.8,"y":-0.2},{"x":3.2,"y":0.1},{"x":3.5,"y":-0.1},{"x":3.9,"y":0.2},{"x":4.2,"y":0.0},{"x":4.6,"y":-0.1},
{"x":-4.5,"y":-0.6},{"x":-4.1,"y":-0.3},{"x":-3.8,"y":-0.7},{"x":-3.4,"y":-0.4},{"x":-3.1,"y":-0.6},{"x":-2.7,"y":-0.3},{"x":-2.4,"y":-0.5},{"x":-2.0,"y":-0.7},{"x":-1.7,"y":-0.4},{"x":-1.3,"y":-0.6},{"x":-1.0,"y":-0.3},{"x":-0.6,"y":-0.5},{"x":-0.3,"y":-0.7},{"x":0.1,"y":-0.4},{"x":0.5,"y":-0.6},{"x":0.8,"y":-0.3},{"x":1.2,"y":-0.5},{"x":1.5,"y":-0.7},{"x":1.9,"y":-0.4},{"x":2.2,"y":-0.6},{"x":2.6,"y":-0.3},{"x":2.9,"y":-0.5},{"x":3.3,"y":-0.7},{"x":3.6,"y":-0.4},{"x":4.0,"y":-0.6},{"x":4.3,"y":-0.3},{"x":4.6,"y":-0.5},
{"x":-4.4,"y":-1.1},{"x":-4.0,"y":-0.8},{"x":-3.7,"y":-1.2},{"x":-3.3,"y":-0.9},{"x":-3.0,"y":-1.1},{"x":-2.6,"y":-0.8},{"x":-2.3,"y":-1.0},{"x":-1.9,"y":-1.2},{"x":-1.6,"y":-0.9},{"x":-1.2,"y":-1.1},{"x":-0.9,"y":-0.8},{"x":-0.5,"y":-1.0},{"x":-0.2,"y":-1.2},{"x":0.2,"y":-0.9},{"x":0.5,"y":-1.1},{"x":0.9,"y":-0.8},{"x":1.2,"y":-1.0},{"x":1.6,"y":-1.2},{"x":1.9,"y":-0.9},{"x":2.3,"y":-1.1},{"x":2.6,"y":-0.8},{"x":3.0,"y":-1.0},{"x":3.3,"y":-1.2},{"x":3.7,"y":-0.9},{"x":4.0,"y":-1.1},{"x":4.4,"y":-0.8},
{"x":-4.3,"y":-1.5},{"x":-3.9,"y":-1.3},{"x":-3.6,"y":-1.7},{"x":-3.2,"y":-1.4},{"x":-2.9,"y":-1.6},{"x":-2.5,"y":-1.3},{"x":-2.2,"y":-1.5},{"x":-1.8,"y":-1.7},{"x":-1.5,"y":-1.4},{"x":-1.1,"y":-1.6},{"x":-0.8,"y":-1.3},{"x":-0.4,"y":-1.5},{"x":0.0,"y":-1.7},{"x":0.3,"y":-1.4},{"x":0.7,"y":-1.6},{"x":1.0,"y":-1.3},{"x":1.4,"y":-1.5},{"x":1.7,"y":-1.7},{"x":2.1,"y":-1.4},{"x":2.4,"y":-1.6},{"x":2.8,"y":-1.3},{"x":3.1,"y":-1.5},{"x":3.5,"y":-1.7},{"x":3.8,"y":-1.4},{"x":4.2,"y":-1.6},
{"x":-4.1,"y":-2.0},{"x":-3.7,"y":-1.8},{"x":-3.4,"y":-2.2},{"x":-3.0,"y":-1.9},{"x":-2.7,"y":-2.1},{"x":-2.3,"y":-1.8},{"x":-2.0,"y":-2.0},{"x":-1.6,"y":-2.2},{"x":-1.3,"y":-1.9},{"x":-0.9,"y":-2.1},{"x":-0.6,"y":-1.8},{"x":-0.2,"y":-2.0},{"x":0.2,"y":-2.2},{"x":0.5,"y":-1.9},{"x":0.9,"y":-2.1},{"x":1.2,"y":-1.8},{"x":1.6,"y":-2.0},{"x":1.9,"y":-2.2},{"x":2.3,"y":-1.9},{"x":2.6,"y":-2.1},{"x":3.0,"y":-1.8},{"x":3.3,"y":-2.0},{"x":3.7,"y":-2.2},{"x":4.0,"y":-1.9},
{"x":-3.8,"y":-2.5},{"x":-3.5,"y":-2.3},{"x":-3.1,"y":-2.7},{"x":-2.8,"y":-2.4},{"x":-2.4,"y":-2.6},{"x":-2.1,"y":-2.3},{"x":-1.7,"y":-2.5},{"x":-1.4,"y":-2.7},{"x":-1.0,"y":-2.4},{"x":-0.7,"y":-2.6},{"x":-0.3,"y":-2.3},{"x":0.0,"y":-2.5},{"x":0.4,"y":-2.7},{"x":0.7,"y":-2.4},{"x":1.1,"y":-2.6},{"x":1.4,"y":-2.3},{"x":1.8,"y":-2.5},{"x":2.1,"y":-2.7},{"x":2.5,"y":-2.4},{"x":2.8,"y":-2.6},{"x":3.2,"y":-2.3},{"x":3.6,"y":-2.5},
{"x":-3.4,"y":-3.0},{"x":-3.1,"y":-2.8},{"x":-2.7,"y":-3.2},{"x":-2.4,"y":-2.9},{"x":-2.0,"y":-3.1},{"x":-1.7,"y":-2.8},{"x":-1.3,"y":-3.0},{"x":-1.0,"y":-3.2},{"x":-0.6,"y":-2.9},{"x":-0.3,"y":-3.1},{"x":0.1,"y":-2.8},{"x":0.4,"y":-3.0},{"x":0.8,"y":-3.2},{"x":1.1,"y":-2.9},{"x":1.5,"y":-3.1},{"x":1.8,"y":-2.8},{"x":2.2,"y":-3.0},{"x":2.5,"y":-3.2},{"x":2.9,"y":-2.9},{"x":3.2,"y":-3.1},{"x":3.5,"y":-2.8},
{"x":-3.0,"y":-3.4},{"x":-2.6,"y":-3.6},{"x":-2.3,"y":-3.3},{"x":-1.9,"y":-3.5},{"x":-1.6,"y":-3.7},{"x":-1.2,"y":-3.4},{"x":-0.9,"y":-3.6},{"x":-0.5,"y":-3.3},{"x":-0.2,"y":-3.5},{"x":0.2,"y":-3.7},{"x":0.5,"y":-3.4},{"x":0.9,"y":-3.6},{"x":1.2,"y":-3.3},{"x":1.6,"y":-3.5},{"x":1.9,"y":-3.7},{"x":2.3,"y":-3.4},{"x":2.6,"y":-3.6},{"x":3.0,"y":-3.3},
{"x":-2.4,"y":-3.9},{"x":-2.1,"y":-4.1},{"x":-1.7,"y":-3.8},{"x":-1.4,"y":-4.2},{"x":-1.0,"y":-4.0},{"x":-0.7,"y":-3.8},{"x":-0.3,"y":-4.1},{"x":0.1,"y":-3.9},{"x":0.4,"y":-4.2},{"x":0.8,"y":-4.0},{"x":1.1,"y":-3.8},{"x":1.5,"y":-4.1},{"x":1.8,"y":-3.9},{"x":2.2,"y":-4.0},{"x":2.5,"y":-3.8},
{"x":-1.5,"y":-4.3},{"x":-1.1,"y":-4.5},{"x":-0.8,"y":-4.4},{"x":-0.4,"y":-4.6},{"x":0.0,"y":-4.3},{"x":0.3,"y":-4.5},{"x":0.7,"y":-4.4},{"x":1.0,"y":-4.3},{"x":1.4,"y":-4.4},
{"x":4.5,"y":0.0},{"x":4.4,"y":0.9},{"x":4.1,"y":1.8},{"x":3.6,"y":2.7},{"x":3.0,"y":3.3},{"x":2.3,"y":3.9},{"x":1.4,"y":4.3},{"x":0.5,"y":4.5},{"x":-0.5,"y":4.5},{"x":-1.4,"y":4.3},{"x":-2.3,"y":3.9},{"x":-3.0,"y":3.3},{"x":-3.6,"y":2.7},{"x":-4.1,"y":1.8},{"x":-4.4,"y":0.9},{"x":-4.5,"y":0.0},{"x":-4.4,"y":-0.9},{"x":-4.1,"y":-1.8},{"x":-3.6,"y":-2.7},{"x":-3.0,"y":-3.3},{"x":-2.3,"y":-3.9},{"x":-1.4,"y":-4.3},{"x":-0.5,"y":-4.5},{"x":0.5,"y":-4.5},{"x":1.4,"y":-4.3},{"x":2.3,"y":-3.9},{"x":3.0,"y":-3.3},{"x":3.6,"y":-2.7},{"x":4.1,"y":-1.8},{"x":4.4,"y":-0.9},
{"x":4.3,"y":0.5},{"x":4.1,"y":1.3},{"x":3.7,"y":2.2},{"x":3.2,"y":2.9},{"x":2.5,"y":3.5},{"x":1.8,"y":3.9},{"x":0.9,"y":4.2},{"x":0.0,"y":4.3},{"x":-0.9,"y":4.2},{"x":-1.8,"y":3.9},{"x":-2.5,"y":3.5},{"x":-3.2,"y":2.9},{"x":-3.7,"y":2.2},{"x":-4.1,"y":1.3},{"x":-4.3,"y":0.5},{"x":-4.3,"y":-0.5},{"x":-4.1,"y":-1.3},{"x":-3.7,"y":-2.2},{"x":-3.2,"y":-2.9},{"x":-2.5,"y":-3.5},{"x":-1.8,"y":-3.9},{"x":-0.9,"y":-4.2},{"x":0.0,"y":-4.3},{"x":0.9,"y":-4.2},{"x":1.8,"y":-3.9},{"x":2.5,"y":-3.5},{"x":3.2,"y":-2.9},{"x":3.7,"y":-2.2},{"x":4.1,"y":-1.3},{"x":4.3,"y":-0.5},
{"x":4.6,"y":0.2},{"x":4.4,"y":1.2},{"x":4.1,"y":2.1},{"x":3.6,"y":2.9},{"x":2.9,"y":3.6},{"x":2.1,"y":4.1},{"x":1.2,"y":4.4},{"x":0.2,"y":4.6},{"x":-0.7,"y":4.5},{"x":-1.7,"y":4.3},{"x":-2.5,"y":3.9},{"x":-3.2,"y":3.2},{"x":-3.9,"y":2.5},{"x":-4.3,"y":1.7},{"x":-4.5,"y":0.7},{"x":-4.6,"y":-0.2},{"x":-4.4,"y":-1.2},{"x":-4.1,"y":-2.1},{"x":-3.6,"y":-2.9},{"x":-2.9,"y":-3.6},{"x":-2.1,"y":-4.1},{"x":-1.2,"y":-4.4},{"x":-0.2,"y":-4.6},{"x":0.7,"y":-4.5},{"x":1.7,"y":-4.3},{"x":2.5,"y":-3.9},{"x":3.2,"y":-3.2},{"x":3.9,"y":-2.5},{"x":4.3,"y":-1.7},{"x":4.5,"y":-0.7},
{"x":-1.7,"y":4.2},{"x":-0.7,"y":4.3},{"x":0.4,"y":4.2},{"x":1.3,"y":4.2},{"x":-2.6,"y":3.7},{"x":-1.6,"y":3.8},{"x":-0.4,"y":3.7},{"x":0.9,"y":3.8},{"x":1.9,"y":3.7},{"x":2.6,"y":3.6},{"x":-3.2,"y":3.2},{"x":-2.2,"y":3.3},{"x":-1.1,"y":3.2},{"x":0.0,"y":3.3},{"x":1.3,"y":3.2},{"x":2.0,"y":3.3},{"x":3.0,"y":3.2},{"x":-3.6,"y":2.7},{"x":-2.7,"y":2.8},{"x":-1.7,"y":2.7},{"x":-0.9,"y":2.8},{"x":0.4,"y":2.7},{"x":1.5,"y":2.7},{"x":2.5,"y":2.8},{"x":3.5,"y":2.7},{"x":-4.0,"y":2.2},{"x":-3.0,"y":2.3},{"x":-2.0,"y":2.2},{"x":-1.2,"y":2.3},{"x":0.2,"y":2.2},{"x":1.0,"y":2.3},{"x":1.9,"y":2.2},{"x":2.9,"y":2.3},{"x":3.7,"y":2.2},{"x":-4.2,"y":1.7},{"x":-3.3,"y":1.8},{"x":-2.5,"y":1.7},{"x":-1.4,"y":1.8},{"x":-0.5,"y":1.7},{"x":0.6,"y":1.8},{"x":1.6,"y":1.7},{"x":2.3,"y":1.8},{"x":3.4,"y":1.7},{"x":4.1,"y":1.8},{"x":-4.3,"y":1.2},{"x":-3.6,"y":1.3},{"x":-2.6,"y":1.2},{"x":-1.8,"y":1.3},{"x":-0.8,"y":1.2},{"x":0.3,"y":1.3},{"x":1.3,"y":1.2},{"x":2.3,"y":1.3},{"x":3.0,"y":1.2},{"x":4.0,"y":1.3},{"x":-4.4,"y":0.7},{"x":-3.4,"y":0.8},{"x":-2.7,"y":0.7},{"x":-1.6,"y":0.8},{"x":-0.6,"y":0.7},{"x":0.5,"y":0.8},{"x":1.5,"y":0.7},{"x":2.2,"y":0.8},{"x":3.3,"y":0.7},{"x":4.3,"y":0.8},{"x":-4.4,"y":0.2},{"x":-3.7,"y":0.3},{"x":-2.8,"y":0.2},{"x":-1.7,"y":0.3},{"x":-0.9,"y":0.2},{"x":0.2,"y":0.3},{"x":1.2,"y":0.2},{"x":2.2,"y":0.3},{"x":3.0,"y":0.2},{"x":4.1,"y":0.3},{"x":-4.3,"y":-0.3},{"x":-3.3,"y":-0.2},{"x":-2.3,"y":-0.3},{"x":-1.5,"y":-0.2},{"x":-0.5,"y":-0.3},{"x":0.6,"y":-0.2},{"x":1.6,"y":-0.3},{"x":2.6,"y":-0.2},{"x":3.4,"y":-0.3},{"x":4.4,"y":-0.2},{"x":-4.2,"y":-0.8},{"x":-3.2,"y":-0.7},{"x":-2.2,"y":-0.8},{"x":-1.2,"y":-0.7},{"x":-0.1,"y":-0.8},{"x":1.0,"y":-0.7},{"x":2.0,"y":-0.8},{"x":2.8,"y":-0.7},{"x":3.9,"y":-0.8},{"x":-4.4,"y":-1.2},{"x":-3.5,"y":-1.3},{"x":-2.5,"y":-1.2},{"x":-1.4,"y":-1.3},{"x":-0.6,"y":-1.2},{"x":0.4,"y":-1.3},{"x":1.4,"y":-1.2},{"x":2.5,"y":-1.3},{"x":3.4,"y":-1.2},{"x":4.2,"y":-1.3},{"x":-4.0,"y":-1.8},{"x":-3.0,"y":-1.7},{"x":-1.9,"y":-1.8},{"x":-1.0,"y":-1.7},{"x":0.1,"y":-1.8},{"x":1.1,"y":-1.7},{"x":2.0,"y":-1.8},{"x":3.0,"y":-1.7},{"x":3.9,"y":-1.8},{"x":-3.8,"y":-2.3},{"x":-2.8,"y":-2.2},{"x":-1.8,"y":-2.3},{"x":-0.8,"y":-2.2},{"x":0.3,"y":-2.3},{"x":1.3,"y":-2.2},{"x":2.4,"y":-2.3},{"x":3.4,"y":-2.2},{"x":-3.5,"y":-2.7},{"x":-2.5,"y":-2.8},{"x":-1.5,"y":-2.7},{"x":-0.4,"y":-2.8},{"x":0.7,"y":-2.7},{"x":1.7,"y":-2.8},{"x":2.7,"y":-2.7},{"x":3.3,"y":-2.8},{"x":-3.1,"y":-3.2},{"x":-2.1,"y":-3.3},{"x":-0.9,"y":-3.2},{"x":0.2,"y":-3.3},{"x":1.4,"y":-3.2},{"x":2.4,"y":-3.3},{"x":3.1,"y":-3.2},{"x":-2.2,"y":-3.8},{"x":-1.2,"y":-3.7},{"x":0.0,"y":-3.8},{"x":1.0,"y":-3.7},{"x":2.0,"y":-3.8},{"x":-1.8,"y":-4.2},{"x":-0.6,"y":-4.3},{"x":0.6,"y":-4.2},{"x":1.7,"y":-4.2},
{"x":0.0,"y":0.0},{"x":0.1,"y":0.1},{"x":-0.1,"y":0.2},{"x":0.2,"y":-0.1},{"x":-0.2,"y":-0.1},{"x":0.1,"y":-0.3},{"x":-0.3,"y":0.1},{"x":0.3,"y":0.3},{"x":-0.1,"y":-0.2},{"x":0.4,"y":0.0},{"x":-0.4,"y":-0.3},{"x":0.2,"y":0.4},{"x":-0.2,"y":0.4},{"x":0.5,"y":-0.2},{"x":-0.5,"y":0.2},{"x":0.0,"y":0.3},{"x":0.3,"y":-0.4},{"x":-0.3,"y":-0.5},{"x":0.1,"y":0.6},{"x":-0.6,"y":-0.1},{"x":0.6,"y":0.3},{"x":0.0,"y":-0.5},{"x":-0.2,"y":0.0},{"x":0.2,"y":0.1},{"x":0.1,"y":-0.1}],
"circ":[{"c":"o","i":0,"x":5,"y":0},{"c":"o","i":1,"x":4.698,"y":1.71},{"c":"o","i":2,"x":3.83,"y":3.214},{"c":"o","i":3,"x":2.5,"y":4.33},{"c":"o","i":4,"x":0.868,"y":4.924},{"c":"o","i":5,"x":-0.868,"y":4.924},{"c":"o","i":6,"x":-2.5,"y":4.33},{"c":"o","i":7,"x":-3.83,"y":3.214},{"c":"o","i":8,"x":-4.698,"y":1.71},{"c":"o","i":9,"x":-5,"y":0},{"c":"o","i":10,"x":-4.698,"y":-1.71},{"c":"o","i":11,"x":-3.83,"y":-3.214},{"c":"o","i":12,"x":-2.5,"y":-4.33},{"c":"o","i":13,"x":-0.868,"y":-4.924},{"c":"o","i":14,"x":0.868,"y":-4.924},{"c":"o","i":15,"x":2.5,"y":-4.33},{"c":"o","i":16,"x":3.83,"y":-3.214},{"c":"o","i":17,"x":4.698,"y":-1.71},
{"c":"n","i":0,"x":2.5,"y":0},{"c":"n","i":1,"x":2.349,"y":0.855},{"c":"n","i":2,"x":1.915,"y":1.607},{"c":"n","i":3,"x":1.25,"y":2.165},{"c":"n","i":4,"x":0.434,"y":2.462},{"c":"n","i":5,"x":-0.434,"y":2.462},{"c":"n","i":6,"x":-1.25,"y":2.165},{"c":"n","i":7,"x":-1.915,"y":1.607},{"c":"n","i":8,"x":-2.349,"y":0.855},{"c":"n","i":9,"x":-2.5,"y":0},{"c":"n","i":10,"x":-2.349,"y":-0.855},{"c":"n","i":11,"x":-1.915,"y":-1.607},{"c":"n","i":12,"x":-1.25,"y":-2.165},{"c":"n","i":13,"x":-0.434,"y":-2.462},{"c":"n","i":14,"x":0.434,"y":-2.462},{"c":"n","i":15,"x":1.25,"y":-2.165},{"c":"n","i":16,"x":1.915,"y":-1.607},{"c":"n","i":17,"x":2.349,"y":-0.855}]
},
"hconcat":[
{"width":511,"height":376,
"layer":[
{"data":{"name":"hist"},
"transform":[{"fold":["a","b","c","d"],"as":["k","n"]},{"filter":"datum.n > 0"}],
"mark":{"type":"bar","binSpacing":0,"strokeWidth":0},
"encoding":{
"x":{"field":"r","type":"quantitative","bin":{"binned":true,"step":0.1},"scale":{"domain":[-0.995,20.895],"nice":false,"zero":false},"axis":{"title":"r [µm]","values":[0,2.5,5,7.5,10,12.5,15,17.5,20],"format":".1f","titlePadding":15}},
"y":{"field":"n","type":"quantitative","stack":"zero","scale":{"domain":[0,493],"nice":false},"axis":{"title":"Počet událostí","values":[0,100,200,300,400],"format":"d","titlePadding":4}},
"color":{"field":"k","type":"nominal","scale":{"domain":["t1","t2","t3","a","b","c","d"],"range":["transparent","transparent","transparent","#0a72ba","#ff7a00","#12a012","#e8001c"]},
"legend":{"orient":"none","legendX":251,"legendY":1,"title":null,"labelExpr":"datum.value == 't1' ? 'Celkem událostí: 17582' : datum.value == 't2' ? 'Elektrony d ≤ 5 µm: 12.3 %' : datum.value == 't3' ? 'Elektrony d ≤ 10 µm: 34.1 %' : datum.value == 'a' ? 'R ∈ [0.0, 0.8) mm' : datum.value == 'b' ? 'R ∈ [0.8, 1.6) mm' : datum.value == 'c' ? 'R ∈ [1.6, 2.4) mm' : 'R ∈ [2.4, 3.2) mm'","symbolType":"M-1,-1H4.8V1H-1Z","symbolSize":100,"symbolStrokeWidth":0,"labelFont":"DejaVu Sans","labelFontSize":14,"labelColor":"#000","labelLimit":400,"labelOffset":29,"padding":6,"rowPadding":6,"strokeColor":"#d0d0d0","cornerRadius":4}},
"order":{"field":"k","type":"nominal"}}},
{"data":{"values":[{"r":18.7,"n":427}]},
"mark":{"type":"point","shape":"M-1,0C-1,-0.342,-0.552,-0.62,0,-0.62C0.552,-0.62,1,-0.342,1,0C1,0.342,0.552,0.62,0,0.62C-0.552,0.62,-1,0.342,-1,0Z","size":8372,"filled":false,"stroke":"#ee0000","strokeWidth":5.5,"opacity":1},
"encoding":{"x":{"field":"r","type":"quantitative"},"y":{"field":"n","type":"quantitative"}}}
]},
{"width":399,"height":397,
"layer":[
{"data":{"name":"bg"},"mark":{"type":"point","filled":true,"size":5,"color":"#10108a","opacity":1},
"encoding":{"x":{"field":"x","type":"quantitative","scale":{"domain":[-10,10],"nice":false},"axis":{"title":"X souřadnice [µm]","values":[-10,-7.5,-5,-2.5,0,2.5,5,7.5,10],"format":".1f","titlePadding":5}},
"y":{"field":"y","type":"quantitative","scale":{"domain":[-10,10],"nice":false},"axis":{"title":"Y souřadnice [µm]","values":[-10,-7.5,-5,-2.5,0,2.5,5,7.5,10],"format":".1f","titlePadding":8}}}},
{"data":{"name":"disc"},"mark":{"type":"point","filled":true,"size":11,"color":"#10108a","opacity":1},
"encoding":{"x":{"field":"x","type":"quantitative"},"y":{"field":"y","type":"quantitative"}}},
{"data":{"name":"circ"},"mark":{"type":"line","interpolate":"cardinal-closed","color":"#e41a1a","strokeWidth":1.6},
"encoding":{"x":{"field":"x","type":"quantitative"},"y":{"field":"y","type":"quantitative"},"detail":{"field":"c","type":"nominal"},"order":{"field":"i","type":"quantitative"}}},
{"data":{"values":[{"t":"u1"},{"t":"u2"},{"t":"u3"}]},"mark":{"type":"point","opacity":0},
"encoding":{"color":{"field":"t","type":"nominal","scale":{"domain":["u1","u2","u3"],"range":["transparent","transparent","transparent"]},
"legend":{"orient":"none","legendX":139,"legendY":6,"title":null,"labelExpr":"datum.value == 'u1' ? 'Celkem událostí: 17582' : datum.value == 'u2' ? 'Elektrony d ≤ 5 µm: 12.3 %' : 'Elektrony d ≤ 10 µm: 34.1 %'","symbolType":"M-1,-1H4.8V1H-1Z","symbolSize":100,"symbolOpacity":0,"symbolStrokeWidth":0,"labelFont":"DejaVu Sans","labelFontSize":14,"labelColor":"#000","labelLimit":400,"labelOffset":29,"padding":6,"rowPadding":4.5,"strokeColor":"#d0d0d0","fillColor":"rgba(255,255,255,0.8)","cornerRadius":4}}}}
]}
]
}
